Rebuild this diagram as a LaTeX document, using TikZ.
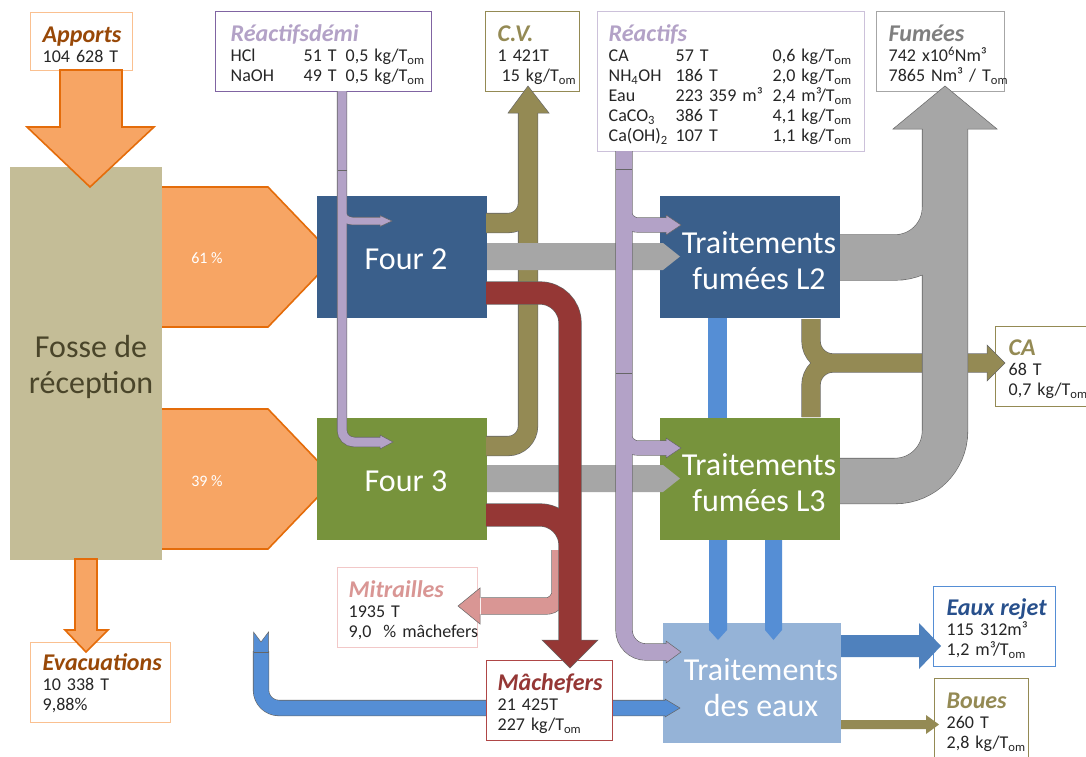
\documentclass[tikz,border=0pt]{standalone}
\usepackage{fontspec}
\setmainfont{Carlito}

\definecolor{orfill}{RGB}{247,165,100}
\definecolor{orline}{RGB}{228,108,10}
\definecolor{orbox}{RGB}{250,192,144}
\definecolor{brn}{RGB}{152,72,7}
\definecolor{fossec}{RGB}{196,189,151}
\definecolor{fossetxt}{RGB}{74,69,42}
\definecolor{bluebox}{RGB}{58,95,139}
\definecolor{greenbox}{RGB}{119,147,60}
\definecolor{eauxbox}{RGB}{149,179,215}
\definecolor{water}{RGB}{85,142,213}
\definecolor{rejetc}{RGB}{79,129,189}
\definecolor{rejettxt}{RGB}{40,80,140}
\definecolor{grayp}{RGB}{166,166,166}
\definecolor{graytxt}{RGB}{127,127,127}
\definecolor{olv}{RGB}{148,138,84}
\definecolor{redp}{RGB}{149,55,53}
\definecolor{redbox}{RGB}{175,70,70}
\definecolor{pinkp}{RGB}{217,150,148}
\definecolor{pinkbox}{RGB}{242,200,200}
\definecolor{lav}{RGB}{179,162,199}
\definecolor{purpl}{RGB}{128,100,162}
\definecolor{lavbox}{RGB}{204,193,218}

\newcommand{\ttl}[2]{\mbox{\fontsize{24}{20}\selectfont\bfseries\itshape\color{#1}#2}}
\newcommand{\tstrut}[1][30pt]{\rule{0pt}{#1}}
\newcommand{\bstrut}[1][10pt]{\rule[-#1]{0pt}{#1}}
\newcommand{\Tom}{T\textsubscript{om}}
\newcommand{\tightsp}{\spaceskip=3.6pt plus 1pt\relax}

\begin{document}
\begin{tikzpicture}[x=1pt, y=-1pt,
    info/.style={draw=#1, line width=1.3pt, fill=white, anchor=north west, align=left,
      inner xsep=12pt, inner ysep=0pt, text=black!85,
      font=\fontsize{18}{20}\selectfont\tightsp},
    proc/.style={fill=#1, anchor=north west, inner sep=0pt},
    lbl/.style={text=white, align=center, inner sep=0pt, font=\fontsize{32}{36}\selectfont},
    pct/.style={text=white, inner sep=0pt, font=\fontsize{16}{18}\selectfont},
    big/.style={fill=orfill, draw=orline, line width=1.6pt},
    rim/.style={draw=black!60, line width=0.5pt},
]
\useasboundingbox (0,0) rectangle (1086,756);
\clip (0,0) rectangle (1086,756);
\fill[white] (0,0) rectangle (1086,756);

% Orange flows out of the pit
\draw[big] (160,187) -- (268,187) -- (335,257) -- (268,327) -- (160,327) -- cycle;
\draw[big] (160,409) -- (268,409) -- (335,479) -- (268,549) -- (160,549) -- cycle;

% Process boxes
\node[proc=fossec, minimum width=152pt, minimum height=393pt] (fosse) at (10,167) {};
\node[proc=bluebox, minimum width=170pt, minimum height=122pt] (four2) at (317,196) {};
\node[proc=greenbox, minimum width=170pt, minimum height=122pt] (four3) at (317,418) {};
\node[proc=bluebox, minimum width=180pt, minimum height=122pt] (tfl2) at (660,196) {};
\node[proc=greenbox, minimum width=180pt, minimum height=122pt] (tfl3) at (660,418) {};
\node[proc=eauxbox, minimum width=178pt, minimum height=120pt] (teaux) at (663,623) {};

% Water lines
\fill[water] (708,318) rectangle (727,418);
\fill[water] (709,540) -- (727,540) -- (727,630) -- (718,640) -- (709,630) -- cycle;
\fill[water] (765,540) -- (782,540) -- (782,630) -- (773.5,640) -- (765,630) -- cycle;

% Return water pipe
\draw[black!60, line width=16.2pt, rounded corners=18pt] (261,651) |- (666,708);
\draw[water, line width=15pt, rounded corners=18pt] (261,651) |- (666,708);
\filldraw[fill=water, rim] (253.5,652) -- (253.5,632) -- (261,642) -- (268.5,632) -- (268.5,652);
\draw[rim] (253.5,652) -- (268.5,652);
\filldraw[fill=water, rim] (665,700.5) -- (665,699) -- (680,708) -- (665,717) -- (665,715.5);

% Info boxes
\node[info=orbox, text width=78pt] (apports) at (30,12)
  {\tstrut\ttl{brn}{Apports}\\104 628 T\bstrut[8pt]};
\node[info=orbox, text width=116pt] (evac) at (30,642)
  {\tstrut[28pt]\ttl{brn}{Evacuations}\\10 338 T\\9,88\%\bstrut[12pt]};
\node[info=purpl, inner xsep=15pt, text width=186pt] (reacdemi) at (215,11)
  {\tstrut\ttl{lav}{Réactifsdémi}\\
   \mbox{\makebox[73pt][l]{HCl}\makebox[42pt][l]{51 T}0,5 kg/\Tom}\\
   \mbox{\makebox[73pt][l]{NaOH}\makebox[42pt][l]{49 T}0,5 kg/\Tom}\bstrut};
\node[info=olv, text width=70pt] (cv) at (485,11)
  {\tstrut\ttl{olv}{C.V.}\\1 421T\\\mbox{\hspace*{4pt}15 kg/\Tom}\bstrut};
\node[info=lavbox, inner xsep=11pt, text width=245pt] (reactifs) at (597,11)
  {\tstrut\ttl{lav}{Réactifs}\\
   \mbox{\makebox[67pt][l]{CA}\makebox[97pt][l]{57 T}0,6 kg/\Tom}\\
   \mbox{\makebox[67pt][l]{NH\textsubscript{4}OH}\makebox[97pt][l]{186 T}2,0 kg/\Tom}\\
   \mbox{\makebox[67pt][l]{Eau}\makebox[97pt][l]{223 359 m³}2,4 m³/\Tom}\\
   \mbox{\makebox[67pt][l]{CaCO\textsubscript{3}}\makebox[97pt][l]{386 T}4,1 kg/\Tom}\\
   \mbox{\makebox[67pt][l]{Ca(OH)\textsubscript{2}}\makebox[97pt][l]{107 T}1,1 kg/\Tom}\bstrut};
\node[info=grayp, text width=104pt] (fumees) at (876,11)
  {\tstrut\ttl{graytxt}{Fumées}\\\mbox{742 x10\textsuperscript{6}Nm³}\\\mbox{7865 Nm³ / \Tom}\bstrut};
\node[info=olv, inner xsep=13pt, text width=74pt] (ca) at (995,326)
  {\tstrut[29pt]\ttl{olv}{CA}\\68 T\\\mbox{0,7 kg/\Tom}\bstrut[11pt]};
\node[info=water, inner xsep=13pt, text width=96pt] (rejet) at (933,586)
  {\tstrut[29pt]\ttl{rejettxt}{Eaux rejet}\\115 312m³\\\mbox{1,2 m³/\Tom}\bstrut[11pt]};
\node[info=olv, text width=70pt] (boues) at (934,678)
  {\tstrut\ttl{olv}{Boues}\\260 T\\\mbox{2,8 kg/\Tom}\bstrut};
\node[info=redbox, inner xsep=11pt, text width=104pt] (machefers) at (486,660)
  {\tstrut\ttl{redp}{Mâchefers}\\21 425T\\\mbox{227 kg/\Tom}\bstrut};
\node[info=pinkbox, inner xsep=11pt, text width=118pt] (mitrailles) at (337,567)
  {\tstrut\ttl{pinkp}{Mitrailles}\\1935 T\\\mbox{9,0\ \ \% mâchefers}\bstrut};

% Big arrows in and out of the pit
\draw[big] (60,70) -- (122,70) -- (122,127) -- (154,127) -- (90,187) -- (27,127) -- (60,127) -- cycle;
\draw[big] (75,559) -- (97,559) -- (97,630) -- (108,630) -- (86,652) -- (65,630) -- (75,630) -- cycle;
\fill[rejetc] (841,635) -- (919,635) -- (919,623) -- (941,646) -- (919,669) -- (919,657) -- (841,657) -- cycle;
\fill[olv] (841,720) -- (926,720) -- (926,715) -- (939,724.5) -- (926,734) -- (926,729) -- (841,729) -- cycle;

% C.V.
\draw[black!60, line width=20.2pt, rounded corners=20pt] (486,446) -| (528,112) (486,223) -| (528,150);
\draw[olv, line width=19pt, rounded corners=20pt] (486,446) -| (528,112) (486,223) -| (528,150);
\filldraw[fill=olv, rim] (518.5,113) -- (508,113) -- (528,86) -- (549,113) -- (537.5,113);

% Fumes from the furnaces
\fill[grayp] (487,243) -- (663,243) -- (680,256.5) -- (663,270) -- (487,270) -- cycle;
\fill[grayp] (487,465) -- (663,465) -- (680,478.5) -- (663,492) -- (487,492) -- cycle;

% Mitrailles and machefers
\draw[black!60, line width=17.2pt, rounded corners=14pt] (560,550) |- (481,606);
\draw[pinkp, line width=16pt, rounded corners=14pt] (560,550) |- (481,606);
\filldraw[fill=pinkp, rim] (480,598) -- (480,588) -- (458,606) -- (480,624) -- (480,614);
\draw[black!60, line width=23.2pt, rounded corners=30pt] (486,293) -| (570,641) (486,515) -| (570,600);
\draw[redp, line width=22pt, rounded corners=30pt] (486,293) -| (570,641) (486,515) -| (570,600);
\filldraw[fill=redp, rim] (559,640) -- (542,640) -- (570,668) -- (598,640) -- (581,640);

% Reactifs demi
\draw[black!60, line width=10.2pt, rounded corners=12pt] (342,91) |- (381,442);
\draw[black!60, line width=8.2pt, rounded corners=10pt] (342,195) |- (381,221);
\draw[lav, line width=9pt, rounded corners=12pt] (342,91) |- (381,442);
\draw[lav, line width=7pt, rounded corners=10pt] (342,195) |- (381,221);
\draw[rim] (337.5,170) -- (346.5,170);
\filldraw[fill=lav, rim] (380,437.5) -- (380,435) -- (393,442) -- (380,449) -- (380,446.5);
\filldraw[fill=lav, rim] (380,217.5) -- (380,215.5) -- (392,221) -- (380,226.5) -- (380,224.5);

% Reactifs
\draw[black!60, line width=17.2pt, rounded corners=22pt] (624,151) |- (667,652);
\draw[black!60, line width=15.2pt, rounded corners=14pt] (624,195) |- (667,225) (624,415) |- (667,448);
\draw[lav, line width=16pt, rounded corners=22pt] (624,151) |- (667,652);
\draw[lav, line width=14pt, rounded corners=14pt] (624,195) |- (667,225) (624,415) |- (667,448);
\draw[rim] (616,169) -- (632,169) (616,373) -- (632,373);
\filldraw[fill=lav, rim] (666,218) -- (666,215) -- (681,225) -- (666,235) -- (666,232);
\filldraw[fill=lav, rim] (666,441) -- (666,438) -- (681,448) -- (666,458) -- (666,455);
\filldraw[fill=lav, rim] (666,644) -- (666,641) -- (681,652) -- (666,663) -- (666,660);

% CA
\draw[black!60, line width=19.2pt, rounded corners=22pt] (811,319) |- (988,363) (811,417) |- (900,363);
\draw[olv, line width=18pt, rounded corners=22pt] (811,319) |- (988,363) (811,417) |- (900,363);
\filldraw[fill=olv, rim] (987,354) -- (987,345) -- (1005,363) -- (987,381) -- (987,372);

% Fumees
\draw[black!60, line width=46.2pt, rounded corners=50pt] (840,481) -| (945,129) (840,257.5) -| (945,180);
\draw[grayp, line width=45pt, rounded corners=50pt] (840,481) -| (945,129) (840,257.5) -| (945,180);
\filldraw[fill=grayp, rim] (922.5,129) -- (893,129) -- (945,86) -- (997,129) -- (967.5,129);

% Labels
\node[lbl, text=fossetxt] (fosselbl) at (91,367) {Fosse de\\réception};
\node[lbl] (four2lbl) at (406,259) {Four 2};
\node[lbl] (four3lbl) at (406,481) {Four 3};
\node[lbl] (tfl2lbl) at (759,261) {Traitements\\fumées L2};
\node[lbl] (tfl3lbl) at (759,483) {Traitements\\fumées L3};
\node[lbl] (teauxlbl) at (761,688) {Traitements\\des eaux};
\node[pct] (p61) at (207,258) {61 \%};
\node[pct] (p39) at (207,481) {39 \%};

\end{tikzpicture}
\end{document}
